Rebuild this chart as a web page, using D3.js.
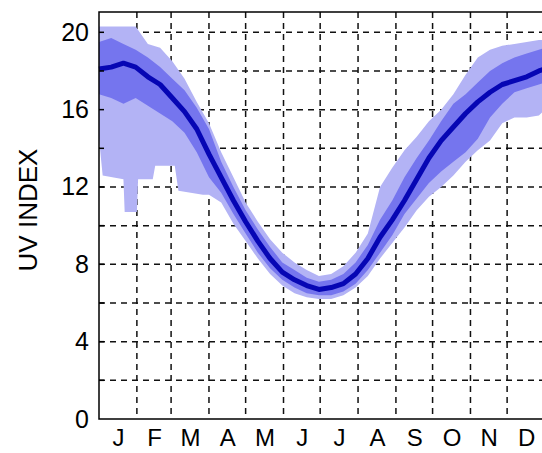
<!DOCTYPE html>
<html lang="en">

<head>
    <meta charset="UTF-8">
    <script src="https://cdnjs.cloudflare.com/ajax/libs/d3/7.9.0/d3.min.js"></script>
    <title>UV index</title>
    <style>
        body {
            margin: 0;
            background-color: white;
            font-family: "Liberation Sans", Arial, sans-serif;
        }

        svg {
            display: block;
        }
    </style>
</head>

<body>
    <div id="content"></div>
    <script>
        // data (day of year -> UV index)
        const months = ["J", "F", "M", "A", "M", "J", "J", "A", "S", "O", "N", "D"];
        const monthLengths = [31, 28, 31, 30, 31, 30, 31, 31, 30, 31, 30, 31];
        const yTicks = [0, 4, 8, 12, 16, 20];

        const days = [0, 10, 20, 30, 40, 50, 60, 70, 80, 90, 100, 110, 120, 130, 140, 150, 160, 170, 180,
            190, 200, 210, 220, 230, 240, 250, 260, 270, 280, 290, 300, 310, 320, 330, 340, 350, 360, 365];
        const median = [18.1, 18.2, 18.4, 18.2, 17.7, 17.3, 16.6, 15.9, 15.0, 13.7, 12.5, 11.3, 10.2, 9.2, 8.3, 7.6, 7.2, 6.9, 6.7,
            6.8, 7.0, 7.5, 8.3, 9.4, 10.3, 11.3, 12.4, 13.5, 14.4, 15.1, 15.8, 16.4, 16.9, 17.3, 17.5, 17.7, 18.0, 18.1];
        const innerHigh = [19.5, 19.7, 19.4, 19.1, 18.7, 18.2, 17.6, 17.0, 16.1, 15.0, 13.3, 12.0, 10.8, 9.8, 8.9, 8.1, 7.7, 7.3, 7.1,
            7.2, 7.5, 8.1, 9.0, 10.3, 11.3, 12.5, 13.5, 14.4, 15.4, 16.3, 16.8, 17.4, 18.0, 18.4, 18.7, 18.9, 19.1, 19.2];
        const innerLow = [16.8, 16.6, 16.3, 16.6, 16.2, 15.8, 15.4, 14.8, 13.8, 12.5, 11.7, 10.6, 9.6, 8.6, 7.8, 7.2, 6.8, 6.5, 6.4,
            6.4, 6.6, 7.0, 7.7, 8.6, 9.5, 10.6, 11.4, 12.2, 12.8, 13.3, 13.8, 14.5, 15.6, 16.3, 16.9, 17.1, 17.3, 17.4];
        const outerHigh = [20.3, 20.3, 20.3, 20.3, 19.4, 19.2, 18.5, 17.6, 16.4, 15.3, 13.8, 12.5, 11.2, 10.2, 9.3, 8.6, 8.1, 7.7, 7.4,
            7.5, 7.9, 8.6, 9.6, 12.0, 13.0, 13.9, 14.6, 15.4, 16.0, 16.8, 17.8, 18.7, 19.1, 19.3, 19.4, 19.5, 19.6, 19.6];

        const lowDays = [0, 3, 20, 21, 31, 32, 44, 46, 62, 65, 85, 90, 100, 110, 120, 130, 140, 150, 160, 170, 180,
            190, 200, 210, 220, 230, 240, 250, 260, 270, 280, 290, 300, 310, 320, 330, 340, 350, 360, 365];
        const outerLow = [14.5, 12.6, 12.4, 10.7, 10.7, 12.4, 12.4, 13.1, 13.1, 11.8, 11.6, 11.6, 11.2, 10.1, 9.2, 8.3, 7.5, 6.9, 6.5, 6.3, 6.2,
            6.2, 6.4, 6.8, 7.4, 8.3, 9.1, 9.9, 10.8, 11.5, 12.0, 12.6, 13.3, 13.9, 14.4, 15.3, 15.6, 15.6, 15.7, 16.0];

        const width = 542;
        const height = 453;
        const plot = { left: 99, top: 12, right: 545, bottom: 419 };

        const svg = d3.select("#content")
            .append("svg")
            .attr("width", width)
            .attr("height", height);

        const x = d3.scaleLinear().domain([0, 365]).range([plot.left, plot.right]);
        const y = d3.scaleLinear().domain([0, 21.05]).range([plot.bottom, plot.top]);

        // month boundaries and centres
        const bounds = d3.cumsum(monthLengths).slice(0, 11);
        const mids = monthLengths.map((m, i) => d3.sum(monthLengths.slice(0, i)) + m / 2);

        // grid (behind the bands)
        const grid = svg.append("g")
            .attr("stroke", "#111")
            .attr("stroke-width", 1.5)
            .attr("stroke-dasharray", "6,5");

        grid.selectAll(".hgrid")
            .data(d3.range(2, 21, 2))
            .enter()
            .append("line")
            .attr("x1", plot.left)
            .attr("x2", plot.right)
            .attr("y1", d => y(d))
            .attr("y2", d => y(d));

        grid.selectAll(".vgrid")
            .data(bounds)
            .enter()
            .append("line")
            .attr("x1", d => x(d))
            .attr("x2", d => x(d))
            .attr("y1", plot.top)
            .attr("y2", plot.bottom);

        // outer band: top edge then bottom edge back
        const outerPts = days.map((d, i) => [x(d), y(outerHigh[i])])
            .concat(lowDays.map((d, i) => [x(d), y(outerLow[i])]).reverse());

        svg.append("path")
            .attr("d", d3.line()(outerPts) + "Z")
            .attr("fill", "#b3b3f5");

        const innerArea = d3.area()
            .x((d, i) => x(days[i]))
            .y0((d, i) => y(innerLow[i]))
            .y1((d, i) => y(innerHigh[i]));

        svg.append("path")
            .datum(days)
            .attr("d", innerArea)
            .attr("fill", "#7575ee");

        const medianLine = d3.line()
            .x((d, i) => x(days[i]))
            .y(d => y(d));

        svg.append("path")
            .datum(median)
            .attr("d", medianLine)
            .attr("fill", "none")
            .attr("stroke", "#0606b4")
            .attr("stroke-width", 5)
            .attr("stroke-linejoin", "round");

        // frame
        svg.append("path")
            .attr("d", `M${plot.right},${plot.top}H${plot.left}V${plot.bottom}H${plot.right}`)
            .attr("fill", "none")
            .attr("stroke", "#000")
            .attr("stroke-width", 1.5);

        // inward ticks
        svg.append("g")
            .selectAll("line")
            .data(d3.range(2, 21, 2))
            .enter()
            .append("line")
            .attr("x1", plot.left)
            .attr("x2", plot.left + 5)
            .attr("y1", d => y(d))
            .attr("y2", d => y(d))
            .attr("stroke", "#000")
            .attr("stroke-width", 1.5);

        // axes with labels only
        const yAxis = d3.axisLeft(y).tickValues(yTicks).tickSize(0).tickPadding(10);
        const xAxis = d3.axisBottom(x).tickValues(mids).tickSize(0).tickPadding(10)
            .tickFormat((d, i) => months[i]);

        svg.append("g")
            .attr("id", "y-axis")
            .attr("transform", `translate(${plot.left},0)`)
            .call(yAxis)
            .call(g => g.select(".domain").remove())
            .selectAll("text")
            .attr("font-size", 25)
            .attr("font-family", "Liberation Sans, Arial, sans-serif")
            .attr("fill", "#000");

        svg.append("g")
            .attr("id", "x-axis")
            .attr("transform", `translate(0,${plot.bottom})`)
            .call(xAxis)
            .call(g => g.select(".domain").remove())
            .selectAll("text")
            .attr("font-size", 24)
            .attr("font-family", "Liberation Sans, Arial, sans-serif")
            .attr("fill", "#000");

        svg.append("text")
            .attr("transform", "translate(37,210) rotate(-90)")
            .attr("text-anchor", "middle")
            .attr("font-size", 26)
            .attr("font-family", "Liberation Sans, Arial, sans-serif")
            .text("UV INDEX");
    </script>
</body>

</html>
